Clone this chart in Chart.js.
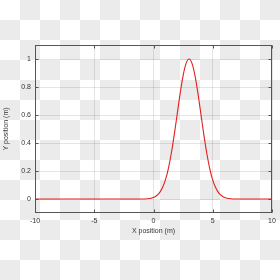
<!DOCTYPE html>
<html lang="en">
<head>
<meta charset="UTF-8">
<title>Y position vs X position</title>
<script src="https://cdn.jsdelivr.net/npm/chart.js"></script>
<style>
  html, body { margin: 0; padding: 0; }
  body {
    width: 280px;
    height: 280px;
    background: repeating-conic-gradient(#ebebeb 0 25%, #ffffff 0 50%) 0 0 / 40px 40px;
  }
  canvas { display: block; }
</style>
</head>
<body>
<canvas id="plot" width="280" height="280"></canvas>
<script>
  // values
  var xPos = [-10, -1, -0.5, 0, 0.25, 0.5, 0.75, 1, 1.25, 1.5, 1.75, 2, 2.25, 2.5, 2.75,
              3, 3.25, 3.5, 3.75, 4, 4.25, 4.5, 4.75, 5, 5.25, 5.5, 5.75, 6, 6.5, 7, 10];
  var yPos = [0, 0, 0.002, 0.011, 0.023, 0.044, 0.080, 0.135, 0.216, 0.325, 0.458, 0.607, 0.755, 0.882, 0.969,
              1, 0.969, 0.882, 0.755, 0.607, 0.458, 0.325, 0.216, 0.135, 0.080, 0.044, 0.023, 0.011, 0.002, 0, 0];
  var xTicks = [-10, -5, 0, 5, 10];
  var yTicks = [0, 0.2, 0.4, 0.6, 0.8, 1];
  var xLabel = 'X position (m)';
  var yLabel = 'Y position (m)';

  var points = xPos.map(function (x, i) { return { x: x, y: yPos[i] }; });

  // box round the plot with short inward tick marks
  var frame = {
    id: 'frame',
    afterDatasetsDraw: function (chart) {
      var a = chart.chartArea, ctx = chart.ctx;
      var xs = chart.scales.x, ys = chart.scales.y;
      var l = Math.round(a.left) + 0.5, r = Math.round(a.right) - 0.5;
      var t = Math.round(a.top) + 0.5, b = Math.round(a.bottom) - 0.5;
      ctx.save();
      ctx.strokeStyle = '#555';
      ctx.lineWidth = 1;
      ctx.strokeRect(l, t, r - l, b - t);
      ctx.beginPath();
      xTicks.forEach(function (v) {
        var px = Math.round(xs.getPixelForValue(v)) + 0.5;
        ctx.moveTo(px, b); ctx.lineTo(px, b - 3);
        ctx.moveTo(px, t); ctx.lineTo(px, t + 3);
      });
      yTicks.forEach(function (v) {
        var py = Math.round(ys.getPixelForValue(v)) + 0.5;
        ctx.moveTo(l, py); ctx.lineTo(l + 3, py);
        ctx.moveTo(r, py); ctx.lineTo(r - 3, py);
      });
      ctx.stroke();
      ctx.restore();
    }
  };

  Chart.defaults.font.family = '"Liberation Sans", Arial, sans-serif';
  Chart.defaults.font.size = 7;
  Chart.defaults.color = '#333';

  var ctx = document.getElementById('plot').getContext('2d');
  var plot = new Chart(ctx, {
    type: 'line',
    data: {
      datasets: [{
        data: points,
        borderColor: 'rgb(228, 30, 30)',
        borderWidth: 1.1,
        pointRadius: 0,
        fill: false,
        cubicInterpolationMode: 'monotone'
      }]
    },
    options: {
      responsive: false,
      animation: false,
      layout: { padding: { top: 45, right: 8, bottom: 45, left: 0 } },
      plugins: { legend: { display: false }, tooltip: { enabled: false } },
      scales: {
        x: {
          type: 'linear',
          min: -10,
          max: 10,
          afterBuildTicks: function (s) { s.ticks = xTicks.map(function (v) { return { value: v }; }); },
          afterFit: function (s) { s.height = 22; },
          grid: { color: 'rgba(0,0,0,0.1)', drawTicks: false },
          border: { display: false },
          ticks: { padding: 4, maxRotation: 0, autoSkip: false, callback: function (v) { return String(v); } },
          title: { display: true, text: xLabel, padding: 0 }
        },
        y: {
          min: -0.1,
          max: 1.1,
          afterBuildTicks: function (s) { s.ticks = yTicks.map(function (v) { return { value: v }; }); },
          afterFit: function (s) { s.width = 35; },
          grid: { color: 'rgba(0,0,0,0.1)', drawTicks: false },
          border: { display: false },
          ticks: { padding: 4, autoSkip: false, callback: function (v) { return String(v); } },
          title: { display: true, text: yLabel, padding: 2 }
        }
      }
    },
    plugins: [frame]
  });
</script>
</body>
</html>
